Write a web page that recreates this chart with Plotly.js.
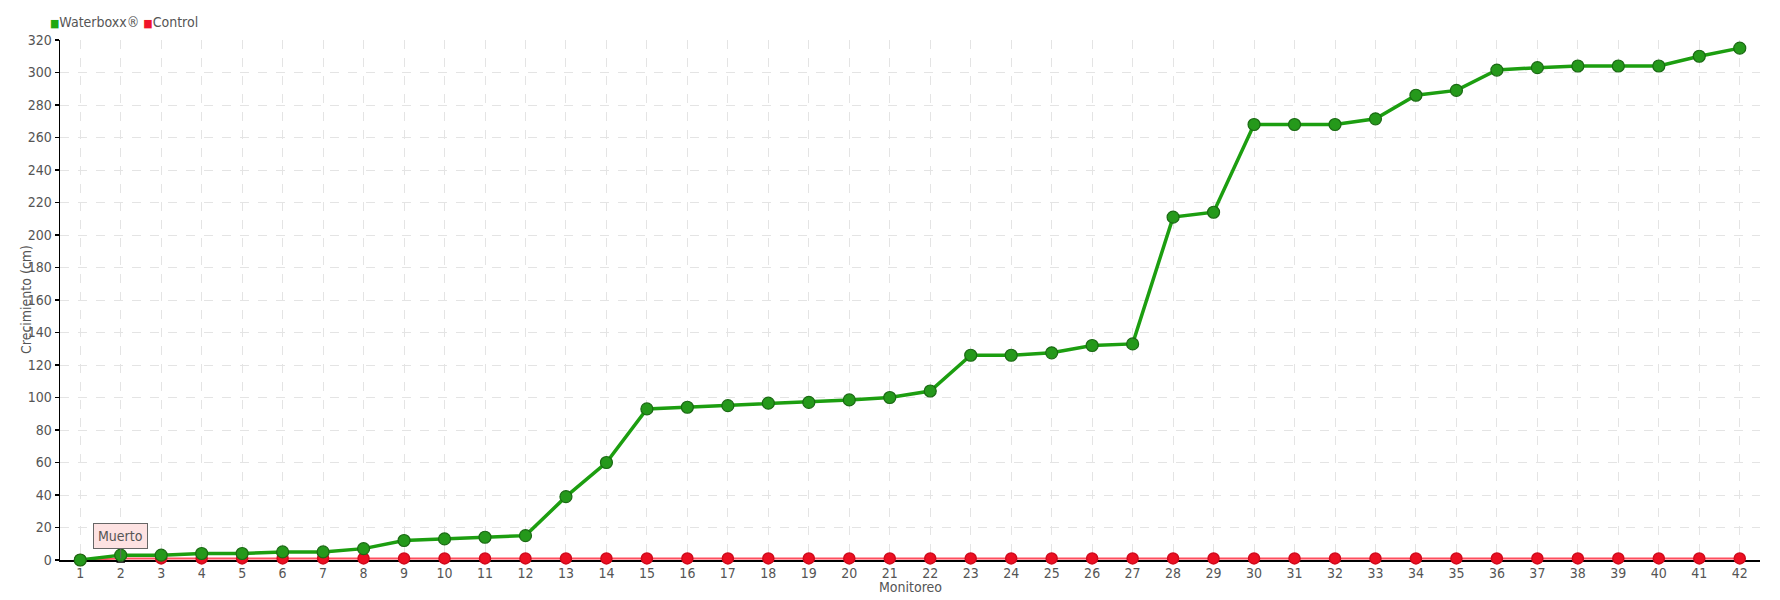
<!DOCTYPE html>
<html>
<head>
<meta charset="utf-8">
<script src="https://cdn.plot.ly/plotly-3.0.1.min.js"></script>
<style>html,body{margin:0;padding:0;background:#fff;}#chart{width:1780px;height:600px;}</style>
</head>
<body>
<div id="chart"></div>
<script>
const monitoreo = [1,2,3,4,5,6,7,8,9,10,11,12,13,14,15,16,17,18,19,20,21,22,23,24,25,26,27,28,29,30,31,32,33,34,35,36,37,38,39,40,41,42];
const waterboxx = [0,3,3,4,4,5,5,7,12,13,14,15,39,60,93,94,95,96.5,97,98.5,100,104,126,126,127.5,132,133,211,214,268,268,268,271.5,286,289,301.5,303,304,304,304,310,315];
const control = [0,1,1,1,1,1,1,1,1,1,1,1,1,1,1,1,1,1,1,1,1,1,1,1,1,1,1,1,1,1,1,1,1,1,1,1,1,1,1,1,1,1];
const yTicks = [0,20,40,60,80,100,120,140,160,180,200,220,240,260,280,300,320];
const seriesNames = ['Waterboxx®', 'Control'];
const seriesColors = ['#1fa812', '#f0142a'];
const xTitle = 'Monitoreo';
const yTitle = 'Crecimiento (cm)';
const annotationText = 'Muerto';
const annotationIndex = 1;

const FONT = '"Liberation Sans Narrow", "DejaVu Sans Condensed", "Roboto", sans-serif';
const TXT = '#555555';

const ctrlSymbols = control.map((v,i) => i === annotationIndex ? 'square' : 'circle');
const ctrlColors = control.map((v,i) => i === annotationIndex ? '#ffffff' : '#ec0f22');
const ctrlLineColors = control.map((v,i) => i === annotationIndex ? '#000000' : '#d00a1c');
const ctrlSizes = control.map((v,i) => i === annotationIndex ? 7 : 11);

const traces = [
  {
    x: monitoreo, y: control, type: 'scatter', mode: 'lines+markers', name: seriesNames[1],
    showlegend: false, cliponaxis: false,
    line: {color: '#ff4f5e', width: 2},
    marker: {symbol: ctrlSymbols, color: ctrlColors, size: ctrlSizes, opacity: 1,
             line: {color: ctrlLineColors, width: 1.5}}
  },
  {
    x: monitoreo, y: waterboxx, type: 'scatter', mode: 'lines+markers', name: seriesNames[0],
    showlegend: false, cliponaxis: false,
    line: {color: '#1c9e10', width: 3.5},
    marker: {symbol: 'circle', color: '#25991b', size: 12, line: {color: '#1a6a13', width: 1.2}}
  }
];

const legendText = seriesNames.map((n,i) =>
  '<span style="color:' + seriesColors[i] + ';font-size:11px">■</span>' + n).join(' ');

const layout = {
  width: 1780, height: 600,
  margin: {l: 60, r: 20, t: 40, b: 40, autoexpand: false},
  paper_bgcolor: '#ffffff', plot_bgcolor: '#ffffff',
  font: {family: FONT, size: 14, color: TXT},
  showlegend: false,
  xaxis: {
    range: [0.5, 42.5], tickmode: 'array', tickvals: monitoreo, ticktext: monitoreo.map(String),
    showgrid: true, gridcolor: '#e4e4e4', griddash: 'dash', gridwidth: 1,
    zeroline: false, showline: true, linecolor: '#000000', linewidth: 1.5, layer: 'below traces',
    ticks: '', tickfont: {family: FONT, size: 14, color: TXT}
  },
  yaxis: {
    range: [0, 320], tickmode: 'array', tickvals: yTicks,
    showgrid: true, gridcolor: '#e4e4e4', griddash: 'dash', gridwidth: 1,
    zeroline: false, showline: true, linecolor: '#000000', linewidth: 1.5, layer: 'below traces',
    ticks: 'outside', ticklen: 4, tickcolor: '#000000', tickwidth: 1.5,
    tickfont: {family: FONT, size: 14, color: TXT}
  },
  annotations: [
    {
      x: monitoreo[annotationIndex], y: control[annotationIndex], xref: 'x', yref: 'y',
      text: annotationText, showarrow: true, arrowhead: 0, arrowwidth: 1, arrowcolor: '#666666',
      ax: 0, ay: -22, bgcolor: '#fde2e2', bordercolor: '#666666', borderwidth: 1, borderpad: 4,
      font: {family: FONT, size: 14, color: TXT}
    },
    {
      xref: 'paper', yref: 'paper', x: -0.007, y: 1 + 18/520, xanchor: 'left', yanchor: 'middle',
      text: legendText, showarrow: false, font: {family: FONT, size: 14, color: TXT}
    },
    {
      xref: 'paper', yref: 'paper', x: 0.5, y: -27/520, xanchor: 'center', yanchor: 'middle',
      text: xTitle, showarrow: false, font: {family: FONT, size: 14, color: TXT}
    },
    {
      xref: 'paper', yref: 'paper', x: -34/1700, y: 0.5, xanchor: 'center', yanchor: 'middle',
      text: yTitle, textangle: -90, showarrow: false, font: {family: FONT, size: 14, color: TXT}
    }
  ]
};

Plotly.newPlot('chart', traces, layout, {displayModeBar: false, staticPlot: true});
</script>
</body>
</html>
